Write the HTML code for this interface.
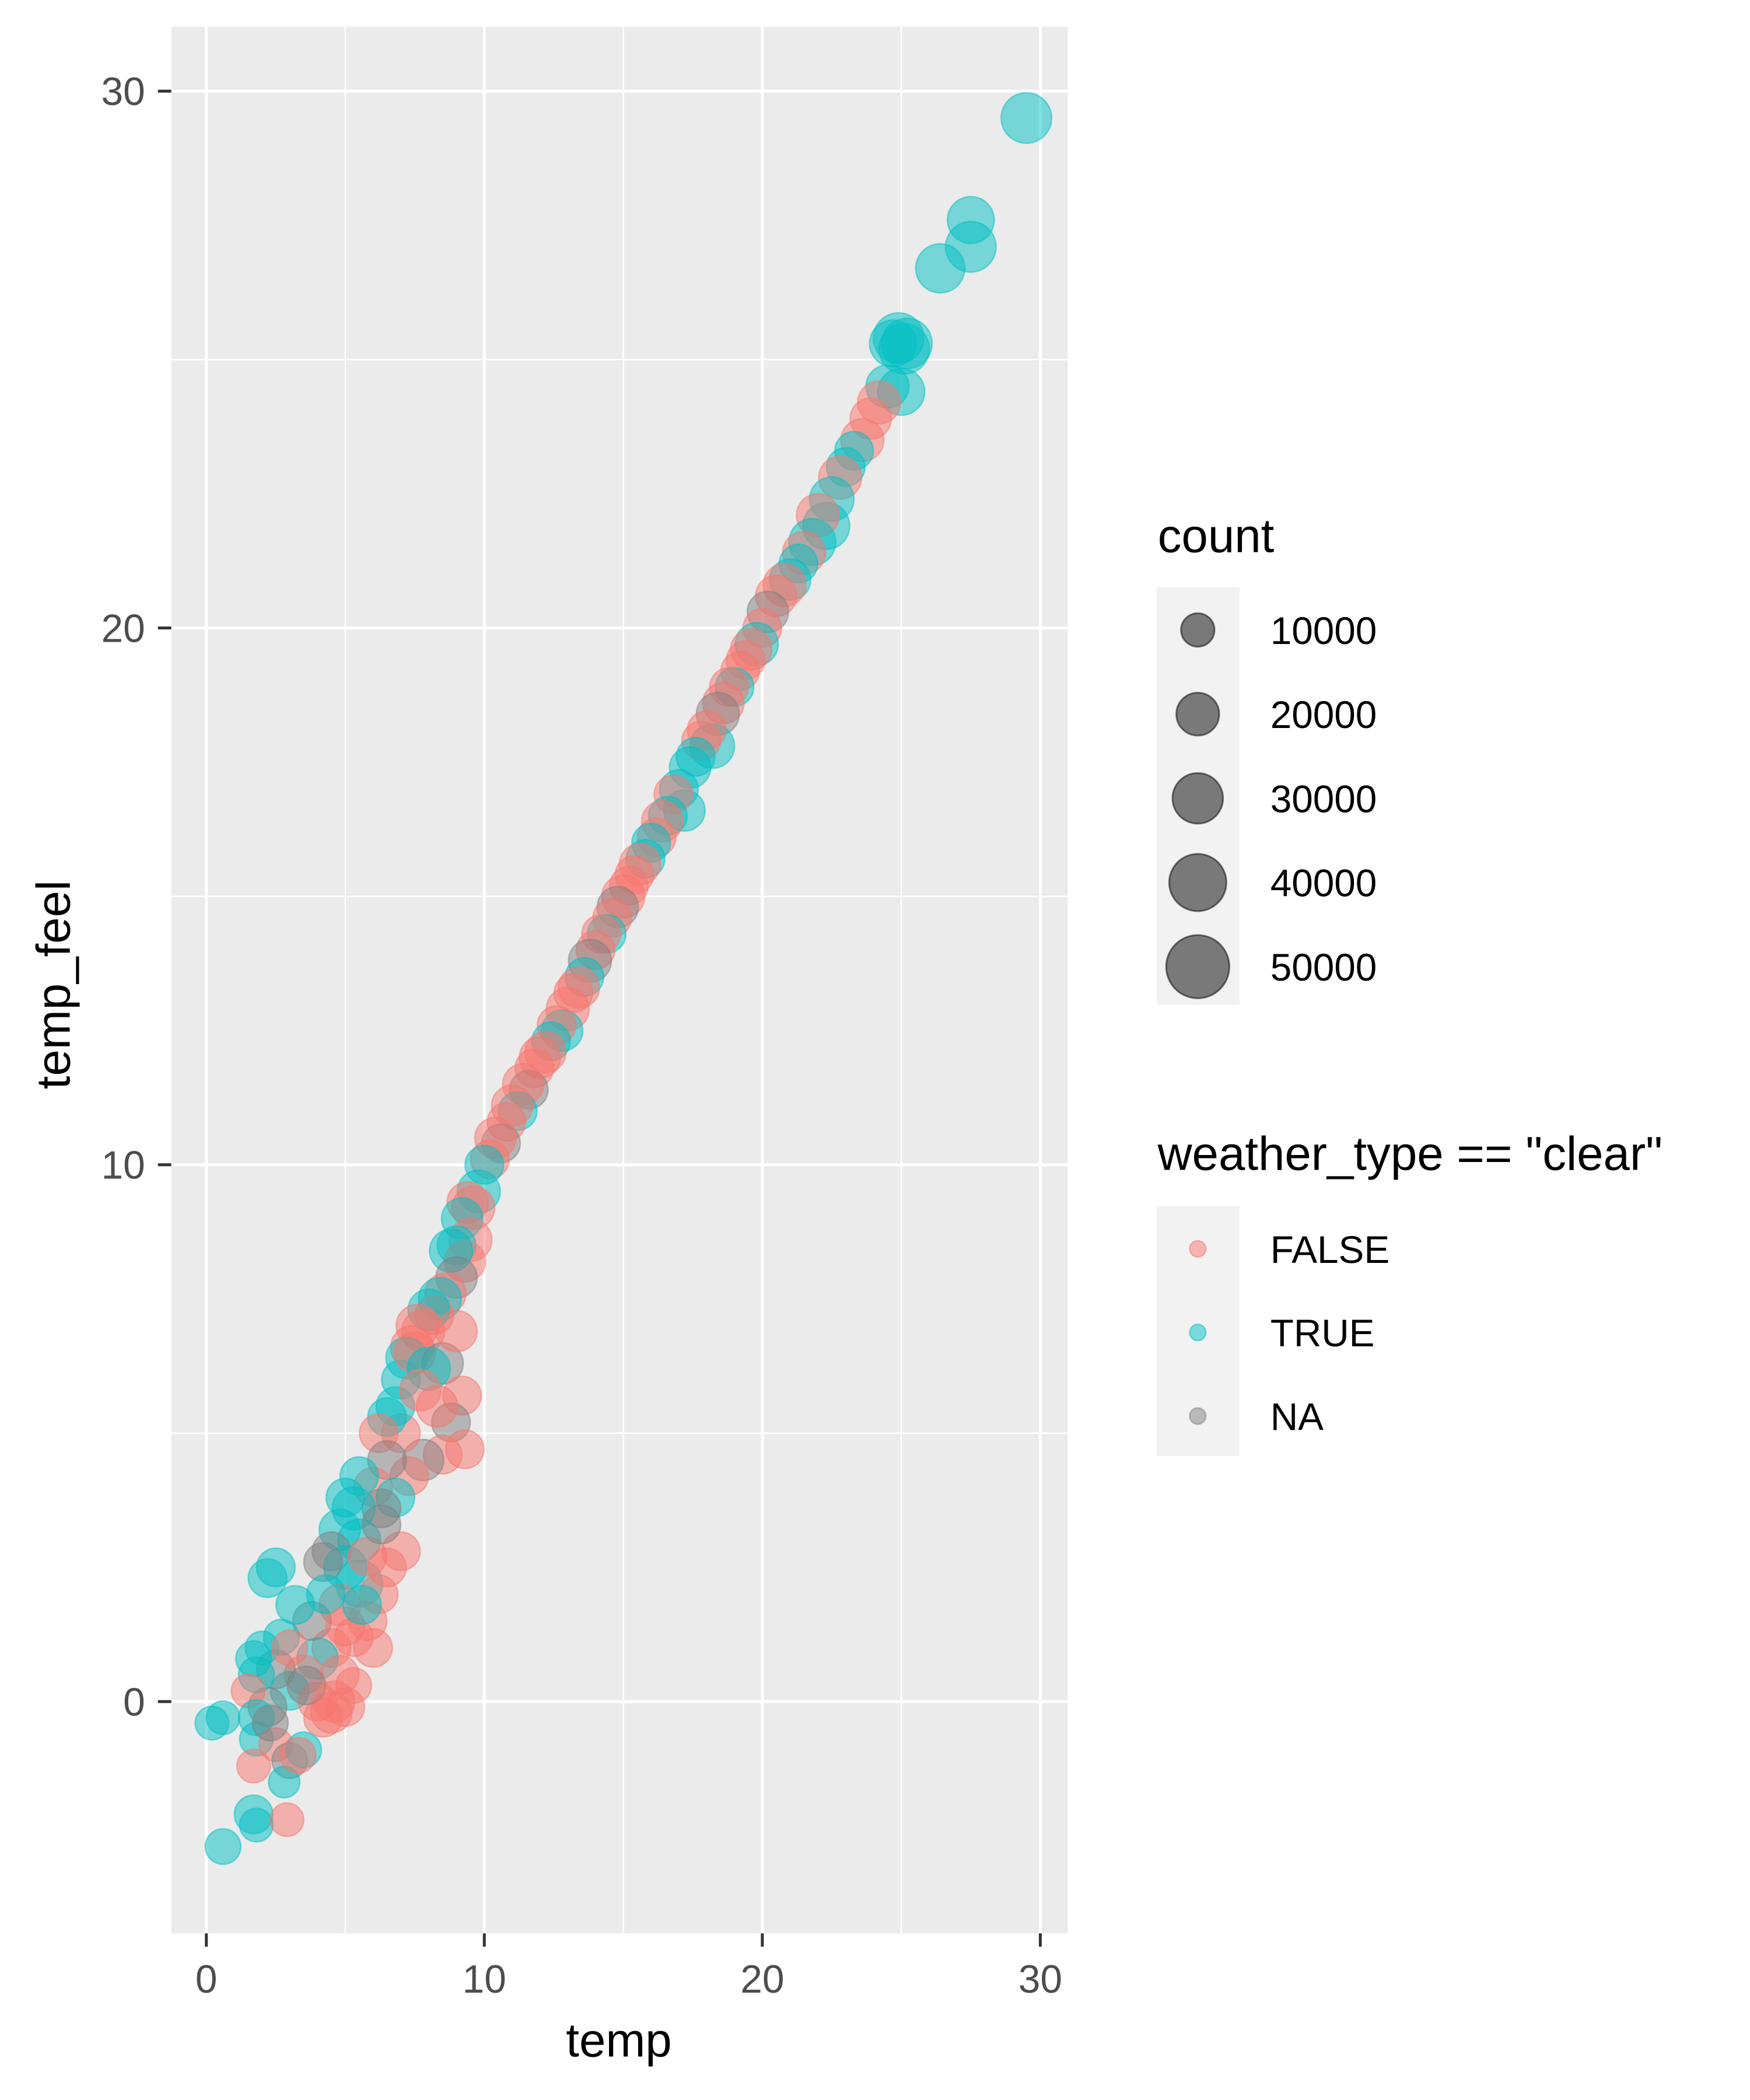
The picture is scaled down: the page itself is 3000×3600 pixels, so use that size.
<!DOCTYPE html>
<html><head><meta charset="utf-8">
<style>
html,body{margin:0;padding:0;background:#fff;}
svg{display:block;font-family:"Liberation Sans Narrow","Liberation Sans",sans-serif;}
</style></head>
<body>
<svg id="chart" width="3000" height="3600" viewBox="0 0 3000 3600" xmlns="http://www.w3.org/2000/svg">
<rect x="0" y="0" width="3000" height="3600" fill="#fff"/>
<g transform="scale(0.9953)">
<rect x="295" y="46" width="1544" height="3284" fill="#EBEBEB"/>
<g id="grid"></g>
<g id="points"></g>
<g id="axes"></g>
<text x="1066" y="3542" font-size="82" text-anchor="middle" fill="#000">temp</text>
<text transform="translate(120,1696) rotate(-90)" font-size="82" text-anchor="middle" fill="#000">temp_feel</text>
<g>
<text x="1994" y="951" font-size="82" fill="#000">count</text>
<rect x="1992" y="1011" width="143" height="720" fill="#F2F2F2"/>
<g id="sizeKeys"></g>
</g>
<g>
<text x="1994" y="2015" font-size="82" fill="#000">weather_type == "clear"</text>
<rect x="1992" y="2077" width="143" height="431" fill="#F2F2F2"/>
<g id="colorKeys"></g>
</g>
</g>
</svg>
<script>
const xTicks=[0,10,20,30];
const yTicks=[0,10,20,30];
const xMinor=[5,15,25];
const yMinor=[-5,5,15,25];
const sizeBreaks=[10000,20000,30000,40000,50000];
const colorLabels=["FALSE","TRUE","NA"];
const temps=[
29.5,27.5,27.5,26.4,24.9,24.7,25.2,25.1,25.0,24.5,
24.2,23.9,23.6,23.3,23.0,22.8,22.5,22.3,22.0,21.8,21.5,21.3,21.0,20.8,20.5,20.2,
20.0,19.8,19.6,19.4,19.2,19.0,18.8,18.6,18.4,18.2,18.0,17.8,17.6,17.4,17.2,17.0,16.8,16.6,16.4,16.2,16.0,15.8,15.6,15.4,15.2,15.0,
14.8,14.6,14.4,14.2,14.0,13.8,13.6,13.4,13.2,13.0,12.8,12.6,12.4,12.2,12.0,11.8,11.6,11.4,11.2,11.0,10.8,10.6,10.4,10.2,10.0,
9.8,9.6,9.4,9.2,9.5,9.0,9.3,8.8,9.0,8.6,
8.4,8.2,8.0,7.8,7.6,7.4,7.2,7.0,7.5,8.5,
9.0,9.2,8.8,8.5,9.3,7.8,7.0,6.8,6.5,6.2,
7.3,6.5,6.0,6.8,6.3,8.0,7.7,8.3,
5.5,5.3,5.0,5.5,4.8,4.5,5.0,5.5,4.2,4.8,
6.5,7.0,6.2,5.8,6.0,5.3,4.5,4.0,3.8,3.5,
3.0,2.5,2.2,3.2,2.7,2.5,2.2,1.8,1.7,1.5,
2.0,1.8,1.8,2.5,3.0,3.5,4.2,4.5,5.0,5.3,
1.7,2.8,1.7,1.8,2.9,0.6,0.2,0.6,3.3,4.0,
4.8,4.3,5.8,6.3,5.0,3.6,3.0,2.3,4.6,5.6];
const feels=[
29.5,27.6,27.1,26.7,25.4,25.3,25.3,25.2,24.4,24.5,
24.2,23.9,23.5,23.3,23.0,22.8,22.4,21.9,22.1,21.6,21.4,21.2,20.9,20.8,20.6,20.3,
20.0,19.7,19.6,19.4,19.2,18.9,18.9,18.6,18.4,17.8,18.1,17.9,17.6,17.4,16.6,17.0,16.9,16.5,16.4,16.1,16.0,15.7,15.6,15.4,15.2,15.0,
14.8,14.6,14.3,14.3,14.0,13.8,13.5,13.3,13.2,12.9,12.5,12.6,12.3,12.1,12.0,11.8,11.4,11.5,11.0,11.1,10.8,10.4,10.5,10.1,10.0,
9.5,9.2,9.3,9.0,8.6,8.5,8.2,8.4,7.9,7.6,
7.5,7.2,7.3,6.9,7.0,6.6,6.4,6.0,6.5,6.3,
6.9,5.7,5.2,4.6,4.7,4.5,5.0,5.5,5.3,5.0,
4.2,4.5,4.0,3.8,3.6,6.2,5.8,5.5,
4.2,3.6,3.8,3.0,3.2,2.8,2.5,2.2,2.6,1.8,
2.5,2.8,2.0,1.5,1.0,1.2,1.0,0.8,1.5,0.5,
0.2,2.5,2.3,1.8,1.2,0.6,-0.1,0.5,0.8,0.2,
1.0,-0.3,-0.7,-0.8,-1.1,-0.9,-0.3,-0.2,-0.1,0.3,
-1.2,-1.5,-2.1,-2.3,-2.2,-2.7,-0.4,-0.3,-1.0,0.0,
0.5,2.0,2.7,3.3,1.4,0.3,1.0,-0.4,0.0,1.8];
const counts=[
30000,25000,30000,28000,30000,25000,30000,30000,25000,20000,
20000,18000,20000,15000,15000,20000,22000,25000,20000,25000,20000,15000,18000,20000,18000,18000,
15000,20000,18000,15000,15000,15000,15000,18000,20000,22000,15000,15000,15000,18000,18000,15000,15000,15000,18000,15000,15000,15000,18000,15000,15000,20000,
18000,15000,15000,15000,15000,20000,15000,18000,15000,20000,18000,15000,15000,18000,18000,15000,15000,18000,15000,18000,15000,15000,18000,15000,15000,
20000,20000,18000,18000,20000,15000,18000,20000,18000,18000,
20000,15000,18000,20000,20000,20000,18000,15000,18000,18000,
18000,15000,15000,15000,15000,18000,15000,15000,15000,15000,
15000,15000,15000,15000,15000,20000,18000,18000,
15000,20000,15000,20000,18000,15000,20000,25000,15000,18000,
15000,15000,15000,15000,15000,15000,15000,18000,15000,15000,
15000,15000,15000,15000,12000,15000,15000,12000,12000,10000,
10000,12000,10000,10000,12000,12000,15000,18000,15000,12000,
10000,8000,15000,10000,10000,12000,10000,10000,12000,15000,
15000,15000,15000,15000,15000,15000,12000,12000,18000,15000];
const types=[
1,1,1,1,1,1,1,1,1,1,
0,0,0,1,1,0,1,1,0,1,0,1,1,0,0,2,
0,1,0,0,0,1,0,0,2,1,0,0,1,1,1,1,0,1,0,0,1,1,0,0,0,0,
2,0,1,0,0,2,1,0,0,0,1,0,1,0,0,0,2,0,1,0,0,2,0,0,1,
1,0,0,1,0,1,0,1,2,0,
1,0,1,0,0,0,1,1,0,2,
0,0,2,0,0,2,0,1,1,0,
0,2,0,1,2,1,0,0,
1,1,1,1,1,2,1,1,2,0,
0,0,0,0,0,0,0,1,2,0,
1,1,1,1,1,2,2,1,1,0,
1,1,1,0,2,1,0,0,0,0,
0,1,1,1,0,1,1,1,0,0,
0,1,0,2,0,2,0,2,0,1];
const NS="http://www.w3.org/2000/svg";
const X0=355.4, XS=47.88, Y0=2930.8, YS=92.46;
function sx(v){return X0+v*XS;}
function sy(v){return Y0-v*YS;}
function rad(c){return Math.sqrt(5.325*(56+0.01*c));}
const colors=["#F8766D","#00BFC4","#7F7F7F"];
function mk(tag,attrs,parent){const e=document.createElementNS(NS,tag);for(const k in attrs)e.setAttribute(k,attrs[k]);parent.appendChild(e);return e;}
const grid=document.getElementById('grid');
xMinor.forEach(v=>{const l=mk('line',{x1:sx(v),x2:sx(v),y1:46,y2:3330,stroke:'#fff','stroke-width':2.6},grid);

});
yMinor.forEach(v=>{const l=mk('line',{x1:295,x2:1839,y1:sy(v),y2:sy(v),stroke:'#fff','stroke-width':2.6},grid);

});
xTicks.forEach(v=>{const l=mk('line',{x1:sx(v),x2:sx(v),y1:46,y2:3330,stroke:'#fff','stroke-width':5},grid);

});
yTicks.forEach(v=>{const l=mk('line',{x1:295,x2:1839,y1:sy(v),y2:sy(v),stroke:'#fff','stroke-width':5},grid);

});
const pts=document.getElementById('points');
const n=Math.min(temps.length,feels.length,counts.length,types.length);
for(let i=0;i<n;i++){
const c=colors[types[i]]||colors[0];
const p=mk('circle',{cx:sx(temps[i]),cy:sy(feels[i]),r:rad(counts[i]),fill:c,'fill-opacity':0.5,stroke:c,'stroke-opacity':0.5,'stroke-width':2.5},pts);


}
const axes=document.getElementById('axes');
xTicks.forEach(v=>{
const t=mk('line',{x1:sx(v),x2:sx(v),y1:3330,y2:3353,stroke:'#333','stroke-width':5},axes);


const tx=mk('text',{x:sx(v),y:3432,'font-size':68,'text-anchor':'middle',fill:'#4D4D4D'},axes);
tx.textContent=String(v);


});
yTicks.forEach(v=>{
const t=mk('line',{x1:272,x2:295,y1:sy(v),y2:sy(v),stroke:'#333','stroke-width':5},axes);


const tx=mk('text',{x:250,y:sy(v)+24,'font-size':68,'text-anchor':'end',fill:'#4D4D4D'},axes);
tx.textContent=String(v);


});
const sk=document.getElementById('sizeKeys');
sizeBreaks.forEach((b,i)=>{
const cy=1085+i*145;
const c=mk('circle',{cx:2063,cy:cy,r:rad(b),fill:'#000','fill-opacity':0.5,stroke:'#000','stroke-opacity':0.5,'stroke-width':3},sk);


const t=mk('text',{x:2188,y:cy+24,'font-size':66,fill:'#000'},sk);
t.textContent=String(b);


});
const ck=document.getElementById('colorKeys');
colorLabels.forEach((lab,i)=>{
const cy=2151+i*144;
const c=mk('circle',{cx:2063,cy:cy,r:14,fill:colors[i],'fill-opacity':0.5,stroke:colors[i],'stroke-opacity':0.5,'stroke-width':2.5},ck);


const t=mk('text',{x:2188,y:cy+24,'font-size':66,fill:'#000'},ck);
t.textContent=lab;


});
</script>
</body></html>
